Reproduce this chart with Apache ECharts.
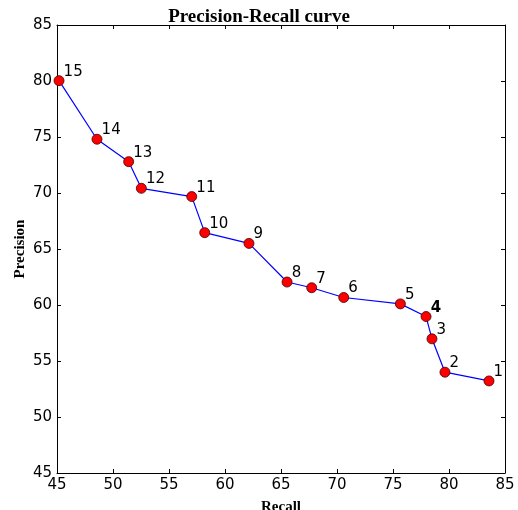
<!DOCTYPE html>
<html><head><meta charset="utf-8">
<script src="https://cdn.jsdelivr.net/npm/echarts@6/dist/echarts.min.js"></script>
<style>html,body{margin:0;padding:0;background:#fff}#c{width:518px;height:510px}</style>
</head><body><div id="c"></div>
<script>
const recall    = [83.57, 79.64, 78.48, 77.95, 75.66, 70.6, 67.74, 65.54, 62.14, 58.19, 57.03, 52.53, 51.4, 48.57, 45.18];
const precision = [53.22, 54.0, 56.98, 58.97, 60.1, 60.67, 61.54, 62.05, 65.5, 66.46, 69.68, 70.42, 72.8, 74.8, 80.03];
const pointLabels = ['1','2','3','4','5','6','7','8','9','10','11','12','13','14','15'];
const boldLabels = ['4'];
const axisMin = 45, axisMax = 85, axisStep = 5;

const data = recall.map((r, i) => {
  const item = { value: [r, precision[i]], name: pointLabels[i] };
  if (boldLabels.includes(pointLabels[i])) item.label = { fontWeight: 'bold' };
  return item;
});

const tickFont = { fontFamily: 'DejaVu Sans', fontSize: 15, color: '#000' };
const lineStyle = { color: '#000', width: 1 };
function ax(pos, show) {
  return {
    type: 'value', min: axisMin, max: axisMax, interval: axisStep, position: pos,
    axisLine: { show: true, onZero: false, lineStyle },
    axisTick: { show: true, inside: true, length: 4, lineStyle },
    axisLabel: Object.assign({ show: show, margin: 5 }, tickFont),
    splitLine: { show: false }
  };
}
const xMain = Object.assign(ax('bottom', true), {
  name: 'Recall', nameLocation: 'middle', nameGap: 27, nameMoveOverlap: false,
  nameTextStyle: { fontFamily: 'Liberation Serif', fontWeight: 'bold', fontSize: 15, color: '#000' }
});
const yMain = Object.assign(ax('left', true), {
  name: 'Precision', nameLocation: 'middle', nameGap: 29, nameMoveOverlap: false,
  nameTextStyle: { fontFamily: 'Liberation Serif', fontWeight: 'bold', fontSize: 15, color: '#000' }
});

const chart = echarts.init(document.getElementById('c'));
chart.setOption({
  animation: false,
  title: { text: 'Precision-Recall curve', left: 'center', top: 3,
    textStyle: { fontFamily: 'Liberation Serif', fontWeight: 'bold', fontSize: 19, color: '#000' } },
  grid: { left: 57, right: 13, top: 25, bottom: 37, containLabel: false, outerBoundsMode: 'none' },
  xAxis: [xMain, ax('top', false)],
  yAxis: [yMain, ax('right', false)],
  series: [{
    type: 'line', xAxisIndex: 0, yAxisIndex: 0, data: data,
    symbol: 'circle', symbolSize: 10,
    itemStyle: { color: '#ff0000', borderColor: '#400000', borderWidth: 0.8 },
    lineStyle: { color: '#0000ff', width: 1.2 },
    label: { show: true, formatter: p => p.name, position: [10, -11],
      fontFamily: 'DejaVu Sans', fontSize: 15, color: '#000' }
  }]
});
</script></body></html>
